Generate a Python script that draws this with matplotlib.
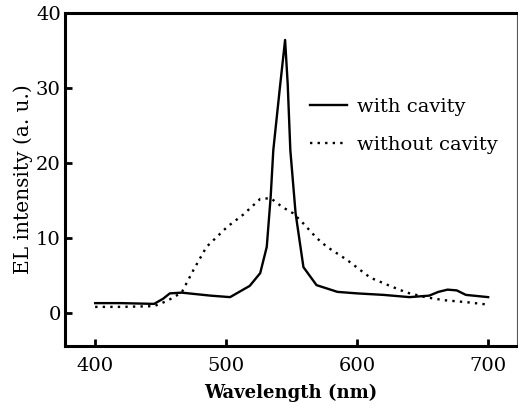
import matplotlib
matplotlib.use("Agg")
import matplotlib.pyplot as plt

# --- data ---
wl_cavity = [400, 420, 445, 452, 457, 466, 488, 503, 518, 526, 531, 534, 536,
             541, 545, 547, 549, 553, 559, 569, 585, 600, 620, 640, 655, 662,
             669, 676, 683, 700]
el_cavity = [1.3, 1.3, 1.2, 1.9, 2.6, 2.7, 2.3, 2.1, 3.6, 5.3, 8.8, 15.5, 21.7,
             30.0, 36.4, 30.5, 21.7, 13.3, 6.1, 3.7, 2.8, 2.6, 2.4, 2.1, 2.3, 2.8,
             3.1, 3.0, 2.4, 2.1]

wl_nocav = [400, 420, 445, 455, 466, 475, 485, 501, 513, 526, 534, 543, 551,
            558, 569, 577, 592, 610, 625, 638, 652, 666, 685, 700]
el_nocav = [0.8, 0.8, 0.9, 1.6, 2.7, 5.7, 8.8, 11.5, 13.1, 15.2, 15.3, 14.1,
            13.3, 12.1, 10.0, 8.8, 7.1, 4.7, 3.6, 2.7, 2.1, 1.7, 1.4, 1.1]

x_ticks = [400, 500, 600, 700]
y_ticks = [0, 10, 20, 30, 40]

FONT = "DejaVu Serif"

fig = plt.figure(figsize=(5.18, 4.05), dpi=100)
ax = fig.add_axes([0.1255, 0.146, 0.8725, 0.822])

ax.plot(wl_cavity, el_cavity, color="black", lw=1.7, label="with cavity")
ax.plot(wl_nocav, el_nocav, color="black", lw=1.7, linestyle=(0, (1, 2.2)),
        label="without cavity")

ax.set_xlim(377, 722)
ax.set_ylim(-4.4, 40)
ax.set_xticks(x_ticks)
ax.set_yticks(y_ticks)

for side in ["left", "bottom", "top"]:
    ax.spines[side].set_linewidth(2.2)
ax.spines["right"].set_linewidth(0.8)
ax.spines["right"].set_color("#555555")

ax.tick_params(direction="in", length=5, width=2, top=False, right=False,
               labelsize=14, pad=8)
for lab in ax.get_xticklabels() + ax.get_yticklabels():
    lab.set_fontfamily(FONT)
ax.tick_params(axis="y", pad=3)

ax.set_xlabel("Wavelength (nm)", fontfamily=FONT, fontsize=13,
              fontweight="bold", labelpad=6)
ax.set_ylabel("EL intensity (a. u.)", fontfamily=FONT, fontsize=14.5,
              labelpad=2)

ax.legend(loc="upper left", bbox_to_anchor=(0.52, 0.775), frameon=False,
          prop={"family": FONT, "size": 14}, handlelength=1.9,
          handletextpad=0.55, labelspacing=1.05, borderpad=0)

fig.savefig("out.png", dpi=100)
